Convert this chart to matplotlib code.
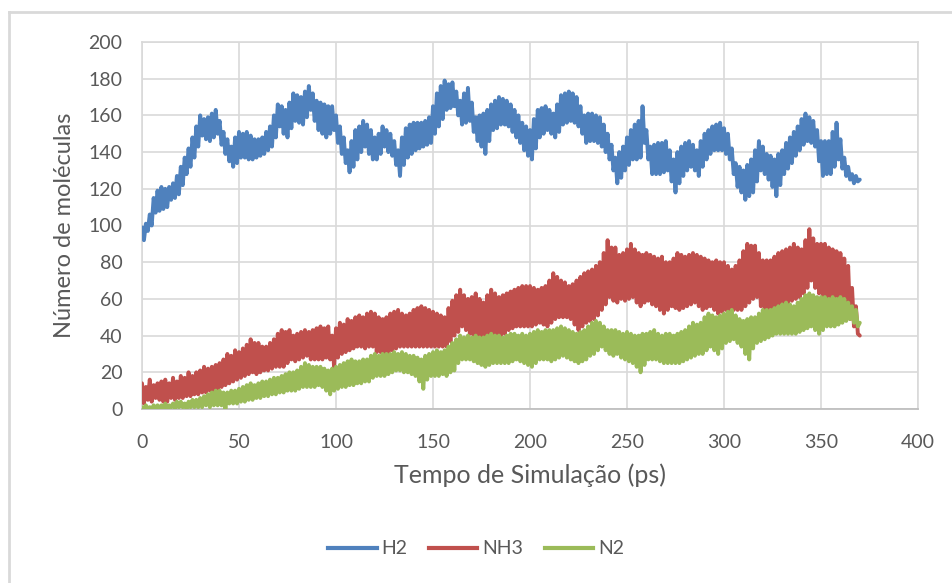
import numpy as np
import matplotlib
matplotlib.use("Agg")
import matplotlib.pyplot as plt
from matplotlib.lines import Line2D

# Simulation time (ps), one sample per ps
time_ps = np.arange(0, 371)

h2 = [
    99, 92, 101, 97, 106, 100, 115, 107, 119, 108, 121, 109, 120, 110, 121, 114,
    123, 115, 127, 117, 132, 122, 137, 128, 142, 132, 148, 137, 154, 143, 160, 149,
    158, 147, 159, 146, 161, 148, 163, 150, 157, 144, 151, 139, 147, 135, 143, 132,
    148, 134, 151, 137, 150, 137, 151, 136, 149, 136, 147, 137, 147, 138, 148, 139,
    151, 141, 154, 143, 160, 148, 166, 154, 165, 150, 163, 148, 167, 153, 172, 157,
    171, 156, 170, 155, 173, 159, 176, 163, 172, 157, 168, 152, 167, 150, 166, 148,
    165, 150, 165, 152, 160, 145, 154, 139, 148, 134, 141, 129, 146, 132, 152, 136,
    154, 140, 157, 143, 155, 139, 152, 136, 148, 136, 150, 139, 154, 143, 152, 140,
    150, 138, 146, 133, 141, 127, 148, 133, 153, 137, 155, 139, 156, 141, 156, 142,
    156, 143, 157, 144, 159, 145, 165, 150, 172, 154, 176, 158, 179, 163, 177, 164,
    178, 165, 173, 160, 168, 155, 172, 156, 175, 157, 167, 151, 159, 146, 160, 143,
    161, 139, 163, 146, 166, 152, 168, 153, 170, 155, 169, 155, 168, 154, 166, 151,
    163, 148, 160, 145, 156, 141, 154, 138, 152, 136, 158, 142, 163, 148, 164, 150,
    165, 152, 163, 150, 161, 148, 166, 151, 171, 155, 172, 156, 173, 157, 172, 156,
    170, 154, 165, 150, 160, 145, 161, 146, 161, 146, 160, 145, 159, 143, 155, 140,
    150, 136, 144, 130, 137, 123, 140, 126, 143, 130, 148, 133, 152, 136, 155, 136,
    157, 137, 165, 145, 152, 136, 143, 128, 144, 128, 145, 128, 145, 129, 146, 130,
    141, 124, 136, 118, 140, 123, 143, 127, 145, 130, 146, 132, 144, 130, 141, 127,
    146, 132, 150, 136, 152, 139, 154, 141, 155, 141, 156, 141, 153, 139, 150, 136,
    142, 128, 134, 121, 132, 118, 130, 114, 133, 116, 136, 118, 141, 124, 146, 130,
    143, 128, 139, 125, 138, 121, 136, 116, 139, 122, 141, 128, 145, 131, 148, 134,
    151, 138, 154, 141, 158, 144, 161, 146, 159, 145, 157, 143, 152, 135, 146, 127,
    146, 128, 146, 128, 151, 132, 156, 136, 147, 131, 137, 127, 132, 125, 128, 123,
    127, 124, 125,
]

nh3 = [
    14, 3, 12, 5, 16, 4, 13, 6, 14, 5, 15, 4, 16, 4, 14, 6,
    17, 5, 15, 6, 18, 6, 17, 7, 20, 7, 18, 8, 20, 8, 21, 9,
    23, 9, 22, 10, 23, 10, 24, 11, 25, 12, 27, 13, 30, 14, 29, 15,
    32, 16, 31, 17, 33, 18, 35, 19, 38, 20, 36, 19, 36, 20, 34, 21,
    34, 21, 36, 22, 38, 23, 41, 23, 43, 23, 42, 25, 43, 27, 40, 26,
    41, 27, 42, 28, 43, 29, 42, 27, 43, 27, 44, 27, 45, 27, 44, 28,
    45, 27, 40, 23, 44, 28, 47, 30, 46, 31, 49, 32, 48, 33, 50, 34,
    51, 34, 50, 33, 52, 34, 53, 34, 52, 31, 50, 31, 49, 31, 50, 31,
    52, 32, 53, 33, 54, 34, 52, 34, 51, 34, 52, 34, 54, 34, 55, 34,
    56, 34, 55, 34, 54, 34, 53, 34, 52, 34, 51, 34, 50, 34, 55, 37,
    59, 40, 62, 42, 65, 45, 62, 43, 60, 41, 61, 40, 63, 40, 60, 38,
    58, 38, 62, 39, 65, 41, 63, 40, 61, 40, 62, 41, 63, 43, 64, 44,
    65, 45, 66, 45, 67, 45, 67, 45, 67, 45, 66, 46, 65, 47, 66, 46,
    67, 45, 70, 47, 74, 49, 72, 50, 70, 50, 69, 50, 67, 49, 68, 46,
    70, 43, 72, 45, 74, 47, 75, 48, 76, 49, 78, 51, 80, 54, 85, 57,
    92, 61, 88, 59, 88, 58, 84, 60, 85, 59, 87, 60, 90, 61, 87, 58,
    85, 56, 84, 58, 85, 59, 84, 57, 83, 56, 82, 54, 83, 52, 80, 54,
    80, 56, 82, 55, 85, 54, 84, 55, 83, 56, 84, 57, 85, 58, 84, 56,
    83, 54, 82, 55, 81, 56, 80, 54, 81, 52, 80, 53, 80, 54, 78, 54,
    76, 54, 78, 54, 81, 54, 86, 56, 90, 58, 89, 60, 89, 61, 85, 56,
    81, 52, 81, 53, 81, 54, 83, 55, 85, 56, 86, 57, 87, 58, 88, 59,
    90, 60, 88, 61, 87, 63, 92, 66, 98, 70, 93, 66, 90, 63, 90, 62,
    90, 61, 88, 60, 87, 60, 86, 59, 85, 58, 82, 54, 78, 49, 66, 45,
    56, 41, 40,
]

n2 = [
    1, 0, 2, 0, 1, 0, 2, 0, 2, 0, 2, 0, 3, 0, 2, 1,
    3, 0, 4, 1, 4, 1, 3, 0, 4, 1, 5, 1, 5, 1, 6, 1,
    7, 2, 8, 1, 9, 2, 10, 2, 10, 2, 9, 0, 9, 3, 10, 3,
    10, 3, 11, 4, 12, 4, 13, 5, 14, 5, 13, 6, 14, 6, 15, 7,
    15, 7, 16, 8, 17, 8, 17, 9, 18, 9, 19, 10, 20, 10, 20, 10,
    21, 11, 23, 12, 25, 12, 24, 12, 23, 12, 23, 13, 23, 12, 22, 10,
    21, 8, 22, 10, 23, 11, 24, 12, 25, 12, 26, 13, 27, 13, 26, 14,
    26, 14, 27, 15, 27, 15, 29, 17, 30, 18, 29, 18, 30, 18, 30, 19,
    30, 20, 31, 21, 30, 21, 31, 20, 30, 20, 29, 19, 29, 18, 28, 15,
    27, 11, 29, 16, 30, 18, 31, 18, 32, 18, 31, 19, 32, 18, 34, 20,
    36, 21, 38, 25, 40, 27, 39, 27, 40, 27, 39, 26, 40, 25, 39, 24,
    39, 23, 40, 24, 41, 25, 40, 25, 40, 25, 39, 25, 40, 25, 41, 26,
    41, 27, 40, 26, 41, 25, 40, 24, 41, 23, 42, 25, 43, 27, 42, 27,
    43, 27, 43, 26, 43, 27, 44, 28, 45, 29, 44, 28, 43, 27, 42, 26,
    41, 25, 42, 26, 43, 27, 45, 29, 47, 30, 48, 32, 47, 34, 45, 32,
    43, 30, 43, 29, 43, 30, 42, 28, 41, 27, 42, 26, 41, 25, 40, 23,
    40, 20, 41, 24, 41, 27, 42, 27, 43, 27, 41, 26, 40, 25, 41, 25,
    41, 25, 40, 25, 41, 25, 42, 26, 43, 27, 45, 28, 47, 29, 46, 30,
    47, 30, 50, 32, 52, 34, 51, 32, 50, 30, 51, 33, 52, 36, 53, 37,
    54, 38, 51, 36, 49, 34, 48, 30, 49, 27, 50, 33, 50, 36, 52, 37,
    54, 38, 54, 39, 54, 40, 55, 41, 56, 41, 57, 41, 58, 41, 57, 41,
    56, 41, 58, 42, 60, 43, 62, 44, 63, 45, 62, 43, 61, 41, 61, 43,
    61, 45, 60, 45, 61, 45, 60, 46, 61, 47, 60, 48, 58, 49, 56, 47,
    54, 45, 47,
]

series_names = ["H2", "NH3", "N2"]
series_colors = ["#4f81bd", "#c0504d", "#9bbb59"]
x_ticks = [0, 50, 100, 150, 200, 250, 300, 350, 400]
y_ticks = [0, 20, 40, 60, 80, 100, 120, 140, 160, 180, 200]

plt.rcParams["font.family"] = ["Lato", "DejaVu Sans"]

fig = plt.figure(figsize=(9.52, 5.83), dpi=100)
ax = fig.add_axes([142 / 952, 1 - 409 / 583, (918 - 142) / 952, (409 - 42) / 583])

# Outer chart-area border (left & top visible)
fig.add_artist(Line2D([9 / 952, 9 / 952], [0, 1 - 12 / 583], transform=fig.transFigure,
                      color="#d9d9d9", lw=2))
fig.add_artist(Line2D([9 / 952, 1], [1 - 12 / 583, 1 - 12 / 583], transform=fig.transFigure,
                      color="#d9d9d9", lw=2))

for name, vals, col in zip(series_names, [h2, nh3, n2], series_colors):
    ax.plot(time_ps, vals, color=col, lw=2.8, label=name, solid_joinstyle="round",
            solid_capstyle="round", zorder=3)

ax.set_xlim(0, 400)
ax.set_ylim(0, 200)
ax.set_xticks(x_ticks)
ax.set_yticks(y_ticks)
ax.grid(True, color="#d9d9d9", lw=1.2, zorder=0)
ax.set_axisbelow(True)
for side in ["top", "right", "left"]:
    ax.spines[side].set_color("#d9d9d9")
    ax.spines[side].set_linewidth(1.2)
ax.spines["bottom"].set_color("#bfbfbf")
ax.spines["bottom"].set_linewidth(1.3)
ax.tick_params(length=0, labelsize=14, labelcolor="#595959")
ax.tick_params(axis="x", pad=18)
ax.tick_params(axis="y", pad=14)

ax.set_xlabel("Tempo de Simulação (ps)", fontsize=18, color="#595959", labelpad=9)
ax.set_ylabel("Número de moléculas", fontsize=17, color="#595959", labelpad=10)

handles = [Line2D([0], [0], color=c, lw=3) for c in series_colors]
fig.legend(handles, series_names, loc="center", bbox_to_anchor=(0.5, 1 - 549 / 583),
           ncol=3, frameon=False, fontsize=14, labelcolor="#595959",
           handlelength=2.5, handletextpad=0.25, columnspacing=1.1)

fig.savefig("out.png", dpi=100, facecolor="white")
